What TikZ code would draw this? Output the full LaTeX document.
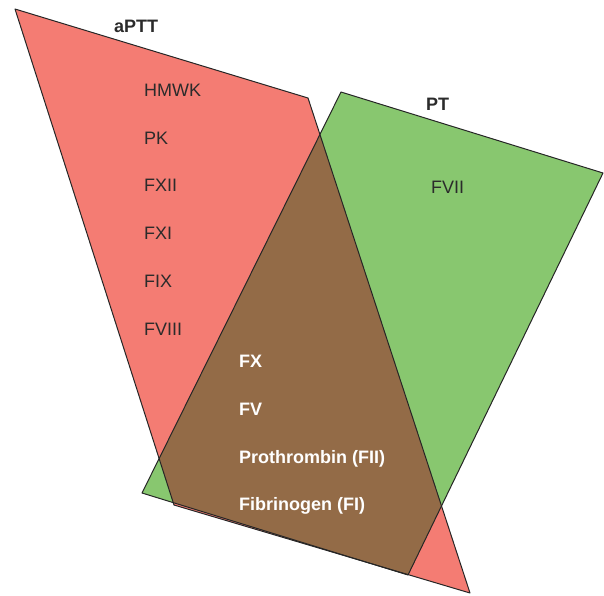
\documentclass[tikz,border=0pt]{standalone}
\usepackage{fontspec}
\setmainfont{Liberation Sans}
\definecolor{redfill}{HTML}{F47C73}
\definecolor{greenfill}{HTML}{88C76F}
\definecolor{brownfill}{HTML}{936B47}
\definecolor{darktext}{HTML}{2B2B2B}
\tikzset{
  region/.style={draw=black!85, line width=1pt, line join=round},
  lbl/.style={anchor=base west, inner sep=0pt, font=\fontsize{18}{20}\selectfont, text=darktext},
  wlbl/.style={anchor=base west, inner sep=0pt, font=\fontsize{18}{20}\selectfont\bfseries, text=white},
  ttl/.style={anchor=base west, inner sep=0pt, font=\fontsize{18}{20}\selectfont\bfseries, text=darktext},
}
\begin{document}
\begin{tikzpicture}[x=1pt,y=-1pt]
\useasboundingbox (0,0) rectangle (604,595);
% vertices
\coordinate (r1) at (15,9);
\coordinate (r2) at (308,98);
\coordinate (r3) at (470,593);
\coordinate (r4) at (174,505);
\coordinate (g1) at (341,92);
\coordinate (g2) at (603,173);
\coordinate (g3) at (408,575);
\coordinate (g4) at (142,493);
% fills
\fill[redfill] (r1) -- (r2) -- (r3) -- (r4) -- cycle;
\fill[greenfill] (g1) -- (g2) -- (g3) -- (g4) -- cycle;
\begin{scope}
  \clip (r1) -- (r2) -- (r3) -- (r4) -- cycle;
  \fill[brownfill] (g1) -- (g2) -- (g3) -- (g4) -- cycle;
\end{scope}
% outlines
\draw[region] (r1) -- (r2) -- (r3) -- (r4) -- cycle;
\draw[region] (g1) -- (g2) -- (g3) -- (g4) -- cycle;
% titles
\node[ttl] (aptt) at (114,32) {aPTT};
\node[ttl] (pt) at (426,110) {PT};
% aPTT only
\node[lbl] (hmwk) at (144,96) {HMWK};
\node[lbl] (pk) at (144,144) {PK};
\node[lbl] (fxii) at (144,191.5) {FXII};
\node[lbl] (fxi) at (144,239) {FXI};
\node[lbl] (fix) at (144,287) {FIX};
\node[lbl] (fviii) at (144,335) {FVIII};
% PT only
\node[lbl] (fvii) at (431,193) {FVII};
% common
\node[wlbl] (fx) at (239,367) {FX};
\node[wlbl] (fv) at (239,415) {FV};
\node[wlbl] (fii) at (239,463) {Prothrombin (FII)};
\node[wlbl] (fi) at (239,510) {Fibrinogen (FI)};
\end{tikzpicture}
\end{document}
